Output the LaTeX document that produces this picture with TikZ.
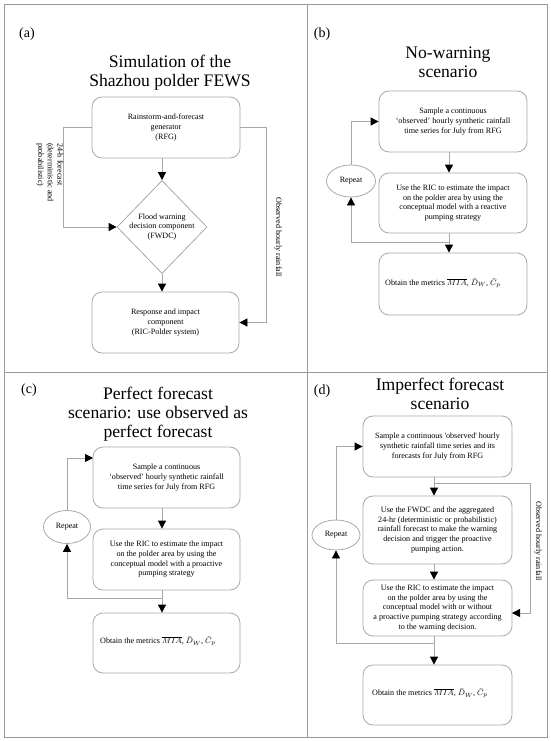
\documentclass[tikz,border=0pt]{standalone}
\usepackage{fontspec}
\setmainfont{Liberation Serif}
\usetikzlibrary{arrows.meta,shapes.geometric,calc}
\definecolor{ln}{HTML}{A8A8A8}
\definecolor{fr}{HTML}{9A9A9A}
\tikzset{
  box/.style={draw=ln, rounded corners=10pt, line width=0.8pt, inner sep=0pt, align=center, font=\fontsize{8.1}{9.7}\selectfont},
  txt/.style={inner sep=0pt, align=center, font=\fontsize{8.1}{9.7}\selectfont},
  ttl/.style={inner sep=0pt, align=center, font=\fontsize{17.6}{19}\selectfont},
  plab/.style={inner sep=0pt, font=\fontsize{14}{16}\selectfont},
  conn/.style={draw=ln, line width=0.8pt},
  arr/.style={conn, -{Triangle[length=8pt,width=8pt,color=black]}},
  rep/.style={ellipse, draw=ln, line width=0.8pt, inner sep=0pt, font=\fontsize{8.1}{9.7}\selectfont},
  frame/.style={draw=fr, line width=0.8pt},
}
\begin{document}
\begin{tikzpicture}[x=1pt,y=-1pt]
\useasboundingbox (0,0) rectangle (550,741);
% frame
\draw[frame] (4,4) rectangle (547,737);
\coordinate (vt) at (307,4); \coordinate (vb) at (307,737);
\coordinate (hl) at (4,372); \coordinate (hr) at (547,372);
\draw[frame] (vt) -- (vb);
\draw[frame] (hl) -- (hr);

% ---------- panel (a)
\node[plab] (la) at (27,34) {(a)};
\node[ttl] (ta) at (170,72.5) {Simulation of the\\Shazhou polder FEWS};
\node[box, minimum width=148pt, minimum height=61pt] (rfg) at (166,127.5) {Rainstorm-and-forecast\\generator\\(RFG)};
\node[diamond, draw=ln, line width=0.8pt, inner sep=0pt, minimum width=90pt, minimum height=93pt] (fwdc) at (162,227) {};
\node[txt] (fwdct) at (fwdc) {Flood warning\\decision component\\(FWDC)};
\node[box, minimum width=147pt, minimum height=61pt] (ric) at (165.5,322.5) {Response and impact\\component\\(RIC-Polder system)};
\draw[arr] (fwdc.north |- rfg.south) -- (fwdc.north);
\draw[arr] (fwdc.south) -- (fwdc.south |- ric.north);
\draw[arr] (rfg.west) -- ++(-28,0) |- (fwdc.west);
\draw[arr] (rfg.east) -- ++(26,0) |- (ric.east);
\node[txt, align=left, rotate=-90, anchor=north west] (fcl) at (63.5,143) {24-h forecast\\(deterministic and\\probabilistic)};
\node[txt, rotate=-90] (obsa) at (278,237) {Observed hourly rainfall};

% ---------- panel (b)
\node[plab] (lb) at (322,34) {(b)};
\node[ttl] (tb) at (448,62.5) {No-warning\\scenario};
\node[box, minimum width=148pt, minimum height=61pt] (b1) at (453,121.5) {Sample a continuous\\‘observed’ hourly synthetic rainfall\\time series for July from RFG};
\node[box, minimum width=148pt, minimum height=60pt] (b2) at (453,203) {Use the RIC to estimate the impact\\on the polder area by using the\\conceptual model with a reactive\\pumping strategy};
\node[box, minimum width=148pt, minimum height=62pt] (b3) at (453,284) {};
\node[txt, anchor=west] (b3t) at (385,283) {Obtain the metrics $\overline{MIA}$, $\bar{D}_{W}$, $\bar{C}_{p}$};
\node[rep, minimum width=49pt, minimum height=32pt] (brep) at (351,181) {Repeat};
\coordinate (bj) at (449,242);
\draw[arr] (449,0 |- b1.south) -- (449,0 |- b2.north);
\draw[arr] (449,0 |- b2.south) -- (449,0 |- b3.north);
\draw[arr] (bj) -| (brep.south);
\draw[arr] (brep.north) |- (b1.west);

% ---------- panel (c)
\node[plab] (lc) at (29,390) {(c)};
\node[ttl] (tc) at (158,414) {Perfect forecast\\scenario: use observed as\\perfect forecast};
\node[box, minimum width=147pt, minimum height=61pt] (c1) at (166.5,477.5) {Sample a continuous\\‘observed’ hourly synthetic rainfall\\time series for July from RFG};
\node[box, minimum width=147pt, minimum height=61pt] (c2) at (166.5,559.5) {Use the RIC to estimate the impact\\on the polder area by using the\\conceptual model with a proactive\\pumping strategy};
\node[box, minimum width=147pt, minimum height=60pt] (c3) at (166.5,643) {};
\node[txt, anchor=west] (c3t) at (100,641) {Obtain the metrics $\overline{MIA}$, $\bar{D}_{W}$, $\bar{C}_{p}$};
\node[rep, minimum width=47pt, minimum height=33pt] (crep) at (67,527) {Repeat};
\coordinate (cj) at (162,598);
\coordinate (cin) at (93,458);
\draw[arr] (162,0 |- c1.south) -- (162,0 |- c2.north);
\draw[arr] (162,0 |- c2.south) -- (162,0 |- c3.north);
\draw[arr] (cj) -| (crep.south);
\draw[arr] (crep.north) |- (cin);

% ---------- panel (d)
\node[plab] (ld) at (322,391) {(d)};
\node[ttl] (td) at (440,394) {Imperfect forecast\\scenario};
\node[box, minimum width=149pt, minimum height=61pt] (d1) at (437.5,446.5) {Sample a continuous \textquotesingle observed\textquotesingle\ hourly\\synthetic rainfall time series and its\\forecasts for July from RFG};
\node[box, minimum width=149pt, minimum height=68pt] (d2) at (437.5,530) {Use the FWDC and the aggregated\\24-hr (deterministic or probabilistic)\\rainfall forecast to make the warning\\decision and trigger the proactive\\pumping action.};
\node[box, minimum width=149pt, minimum height=56pt] (d3) at (437.5,608) {Use the RIC to estimate the impact\\on the polder area by using the\\conceptual model with or without\\a proactive pumping strategy according\\to the warning decision.};
\node[box, minimum width=149pt, minimum height=60pt] (d4) at (437.5,695) {};
\node[txt, anchor=west] (d4t) at (372,693) {Obtain the metrics $\overline{MIA}$, $\bar{D}_{W}$, $\bar{C}_{p}$};
\node[rep, minimum width=48pt, minimum height=30pt] (drep) at (336,535) {Repeat};
\coordinate (dobs) at (434,483);
\coordinate (dj) at (434,643);
\coordinate (d3in) at (512,613);
\draw[arr] (434,0 |- d1.south) -- (434,0 |- d2.north);
\draw[arr] (434,0 |- d2.south) -- (434,0 |- d3.north);
\draw[arr] (434,0 |- d3.south) -- (434,0 |- d4.north);
\draw[arr] (dobs) -- (530,483) |- (d3in);
\draw[arr] (dj) -| (drep.south);
\draw[arr] (drep.north) |- (d1.west);
\node[txt, rotate=-90] (obsd) at (538,541) {Observed hourly rainfall};
\end{tikzpicture}
\end{document}
